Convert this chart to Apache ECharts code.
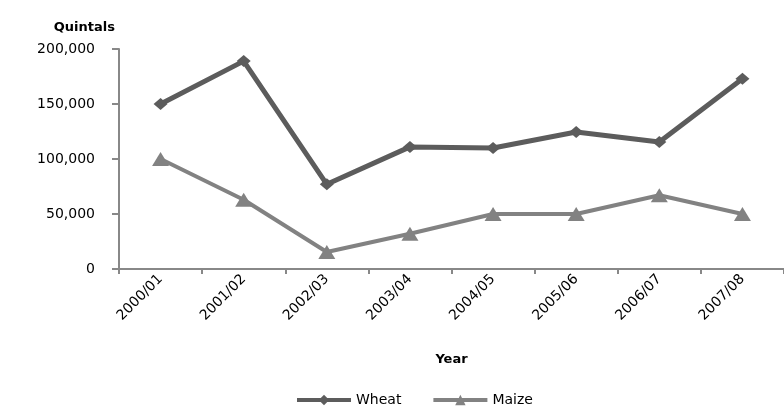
<!DOCTYPE html>
<html><head><meta charset="utf-8">
<script src="https://cdn.jsdelivr.net/npm/echarts@6/dist/echarts.min.js"></script>
<style>html,body{margin:0;padding:0;background:#fff}#c{width:784px;height:407px}</style>
</head><body><div id="c"></div>
<script>
const categories = ['2000/01','2001/02','2002/03','2003/04','2004/05','2005/06','2006/07','2007/08'];
const wheat = [150000,189000,77000,111000,110000,124500,115500,173000];
const maize = [100000,63000,15500,32000,50000,50000,67000,50000];
const yTicks = [0,50000,100000,150000,200000];

const chart = echarts.init(document.getElementById('c'));
const font = 'DejaVu Sans, sans-serif';
chart.setOption({
  animation:false,
  textStyle:{fontFamily:font},
  grid:{left:119,top:49,bottom:138,width:669,containLabel:false},
  legend:{
    data:['Wheat','Maize'], top:393, left:295, padding:0, itemWidth:54, itemHeight:13, itemGap:30,
    lineStyle:{width:4},
    textStyle:{fontSize:14,color:'#000',fontFamily:font}
  },
  xAxis:{
    type:'category', data:categories, boundaryGap:true,
    name:'Year', nameLocation:'middle', nameGap:84,
    nameTextStyle:{fontSize:13,fontWeight:'bold',color:'#000'},
    axisLine:{lineStyle:{color:'#888',width:2}},
    axisTick:{show:true,alignWithLabel:false,length:5,lineStyle:{color:'#888',width:2}},
    axisLabel:{rotate:45,fontSize:14,color:'#000',margin:8,interval:0}
  },
  yAxis:{
    type:'value', min:0, max:200000, interval:50000,
    name:'Quintals', nameLocation:'end', nameGap:15,
    nameTextStyle:{fontSize:13,fontWeight:'bold',color:'#000',align:'right',padding:[0,4,0,0]},
    axisLine:{show:true,lineStyle:{color:'#888',width:2}},
    axisTick:{show:true,length:7,lineStyle:{color:'#888',width:2}},
    splitLine:{show:false},
    axisLabel:{fontSize:14,color:'#000',margin:24,
      formatter:v=>yTicks.includes(v)?v.toLocaleString('en-US'):''}
  },
  series:[
    {name:'Wheat',type:'line',data:wheat,symbol:'diamond',symbolSize:[14,12],
     lineStyle:{color:'#5c5c5c',width:5},itemStyle:{color:'#5c5c5c'}},
    {name:'Maize',type:'line',data:maize,symbol:'triangle',symbolSize:[17,14],
     lineStyle:{color:'#828282',width:4},itemStyle:{color:'#828282'}}
  ]
});
</script></body></html>
